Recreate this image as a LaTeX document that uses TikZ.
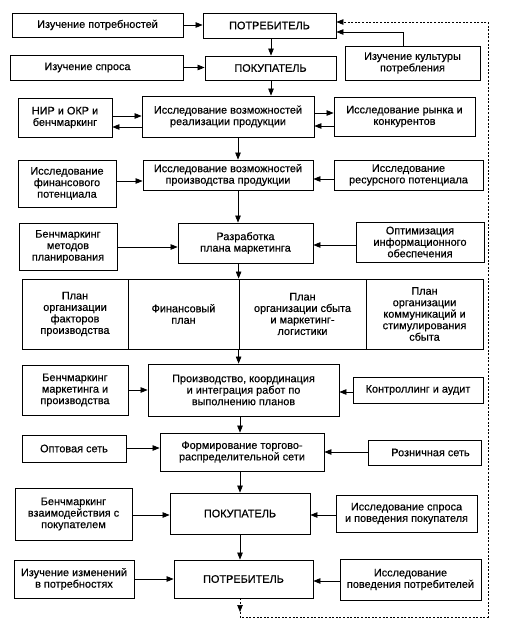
\documentclass[tikz,border=0pt]{standalone}
\usepackage{fontspec}
\setmainfont{Liberation Sans}
\newfontfamily\boxfont{Liberation Sans}[FakeBold=0.4]
\usetikzlibrary{arrows.meta}
\newcommand\bx[6]{\node[box, minimum width={#4-#2}, minimum height={#5-#3}] (#1) at ({(#2+#4)/2},{(#3+#5)/2}) {#6};}
\begin{document}
\begin{tikzpicture}[x=1pt,y=-1pt,
  box/.style={draw, line width=0.8pt, align=center, inner sep=0pt,
    font=\boxfont\fontsize{10.9}{11.5}\selectfont},
  arr/.style={-{Triangle[length=7pt,width=5.5pt]}, line width=0.7pt},
  dsh/.style={line width=0.7pt, dash pattern=on 2pt off 1.6pt}]
\useasboundingbox (0,0) rectangle (507,631);
% row 1
\bx{izp}{12}{13}{183}{37}{Изучение потребностей}
\bx{pt1}{203}{13}{336}{38}{ПОТРЕБИТЕЛЬ}
\bx{kult}{345}{46}{480}{80}{Изучение культуры\\потребления}
% row 2
\bx{izs}{10}{55}{183}{80}{Изучение спроса\hspace*{18pt}}
\bx{pk1}{205}{56}{336}{80}{ПОКУПАТЕЛЬ}
% row 3
\bx{nir}{18}{98}{112}{137}{НИР и ОКР и\\бенчмаркинг}
\bx{res1}{142}{96}{314}{137}{Исследование возможностей\\реализации продукции}
\bx{ryn}{334}{97}{475}{136}{Исследование рынка и\\конкурентов}
% row 4
\bx{fin}{18}{160}{116}{207}{Исследование\\финансового\\потенциала}
\bx{res2}{143}{160}{313}{190}{Исследование возможностей\\производства продукции}
\bx{resp}{334}{160}{483}{190}{Исследование\\ресурсного потенциала}
% row 5
\bx{bm1}{19}{223}{117}{270}{Бенчмаркинг\\методов\\планирования}
\bx{razr}{178}{223}{313}{263}{Разработка\\плана маркетинга}
\bx{opt}{356}{222}{484}{262}{Оптимизация\\информационного\\обеспечения}
% plans
\bx{p1}{22}{279}{128}{349}{План\\организации\\факторов\\производства}
\bx{p2}{128}{279}{239}{349}{Финансовый\\план}
\bx{p3}{239}{279}{366}{349}{План\\организации сбыта\\и маркетинг-\\логистики}
\bx{p4}{366}{279}{483}{349}{План\\организации\\коммуникаций и\\стимулирования\\сбыта}
% row 7
\bx{bm2}{22}{365}{128}{415}{Бенчмаркинг\\маркетинга и\\производства}
\bx{prod}{148}{364}{339}{416}{Производство, координация\\и интеграция работ по\\выполнению планов}
\bx{kontr}{353}{377}{483}{403}{Контроллинг и аудит}
% row 8
\bx{opt2}{22}{435}{126}{462}{Оптовая сеть}
\bx{form}{160}{433}{324}{471}{Формирование торгово-\\распределительной сети}
\bx{rozn}{368}{440}{481}{465}{\hspace*{12pt}Розничная сеть}
% row 9
\bx{bm3}{15}{488}{132}{540}{Бенчмаркинг\\взаимодействия с\\покупателем}
\bx{pk2}{170}{493}{310}{534}{ПОКУПАТЕЛЬ}
\bx{isp}{336}{495}{477}{532}{Исследование спроса\\и поведения покупателя}
% row 10
\bx{izm}{14}{560}{134}{598}{Изучение изменений\\в потребностях}
\bx{pt2}{174}{560}{313}{598}{ПОТРЕБИТЕЛЬ}
\bx{ipov}{340}{559}{481}{600}{Исследование\\поведения потребителей}
% connectors
\draw[arr] (izp.east) -- (izp.east -| pt1.west);
\draw[arr] ([xshift=-9.5pt]kult.north) |- (pt1.east |- 0,32);
\draw[arr] (pt1.south -| 271,0) -- (pk1.north -| 271,0);
\draw[arr] (izs.east) -- (izs.east -| pk1.west);
\draw[arr] (pk1.south -| 271,0) -- (res1.north -| 271,0);
\draw[arr] (nir.east |- 0,116) -- (res1.west |- 0,116);
\draw[arr] (res1.west |- 0,127) -- (nir.east |- 0,127);
\draw[arr] (res1.east |- 0,113) -- (ryn.west |- 0,113);
\draw[arr] (ryn.west |- 0,126) -- (res1.east |- 0,126);
\draw[arr] (res1.south -| 238,0) -- (res2.north -| 238,0);
\draw[arr] (fin.east |- 0,181) -- (res2.west |- 0,181);
\draw[arr] (resp.west |- 0,179) -- (res2.east |- 0,179);
\draw[arr] (res2.south -| 238,0) -- (razr.north -| 238,0);
\draw[arr] (bm1.east |- 0,247) -- (razr.west |- 0,247);
\draw[arr] (opt.west |- 0,245) -- (razr.east |- 0,245);
\draw[arr] (razr.south -| p3.north west) -- (p3.north west);
\draw[arr] (p3.south west) -- (prod.north -| p3.south west);
\draw[arr] (bm2.east |- 0,390) -- (prod.west |- 0,390);
\draw[arr] (kontr.west |- 0,392) -- (prod.east |- 0,392);
\draw[arr] (prod.south -| 240,0) -- (form.north -| 240,0);
\draw[arr] (opt2.east |- 0,448) -- (form.west |- 0,448);
\draw[arr] (rozn.west |- 0,452) -- (form.east |- 0,452);
\draw[arr] (form.south -| 240,0) -- (pk2.north -| 240,0);
\draw[arr] (bm3.east |- 0,515) -- (pk2.west |- 0,515);
\draw[arr] (isp.west |- 0,515) -- (pk2.east |- 0,515);
\draw[arr] (pk2.south -| 240,0) -- (pt2.north -| 240,0);
\draw[arr] (izm.east |- 0,579) -- (pt2.west |- 0,579);
\draw[arr] (ipov.west |- 0,581) -- (pt2.east |- 0,581);
% feedback
\coordinate (dtip) at (240,612);
\coordinate (d1) at (240,617);
\coordinate (d2) at (488,617);
\coordinate (d3) at (488,22);
\draw[dsh, arr] (pt2.south -| dtip) -- (dtip);
\draw[dsh, arr] (dtip) -- (d1) -- (d2) -- (d3) -- (pt1.east |- d3);
\end{tikzpicture}
\end{document}
